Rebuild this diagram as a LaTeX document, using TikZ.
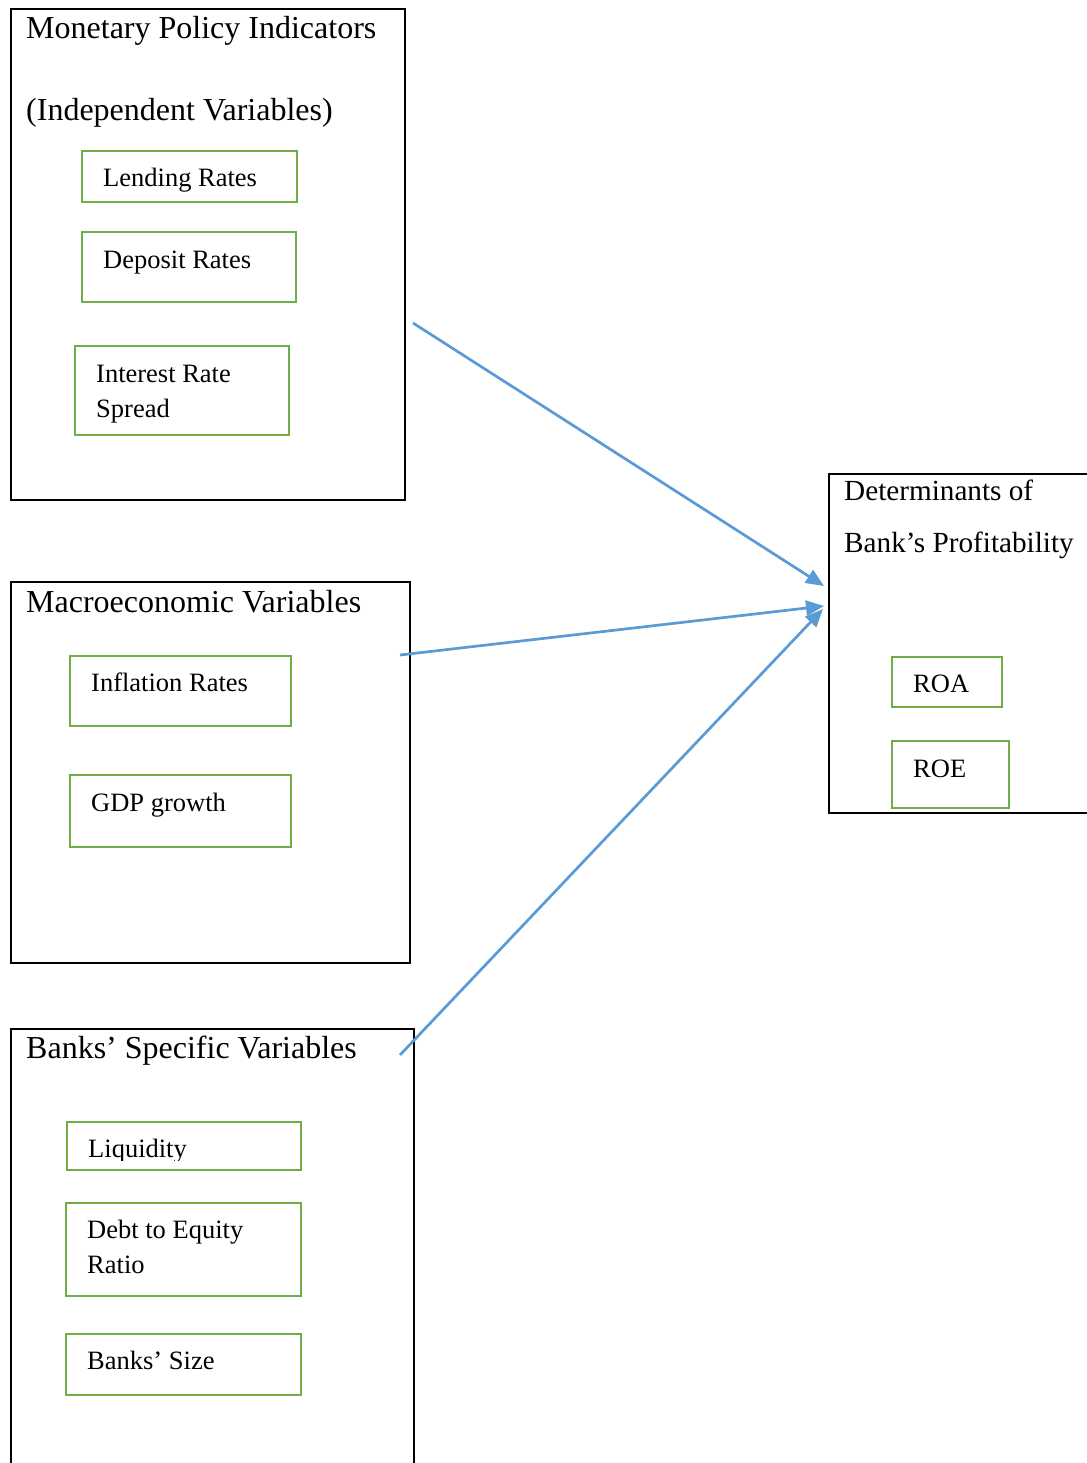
\documentclass[tikz,border=0pt]{standalone}
\usepackage{fontspec}
\setmainfont{Liberation Serif}
\usetikzlibrary{arrows.meta}
\definecolor{boxgreen}{HTML}{70AD47}
\definecolor{arrowblue}{HTML}{5B9BD5}
\begin{document}
\begin{tikzpicture}[x=1pt,y=-1pt,
  outerbox/.style={draw=black,line width=2pt,inner sep=0pt,outer sep=0pt,anchor=north west},
  varbox/.style={draw=boxgreen,line width=2.6pt,inner sep=0pt,outer sep=0pt,anchor=north west},
  title/.style={anchor=base west,inner sep=0pt,font=\fontsize{32}{38}\selectfont},
  dtitle/.style={anchor=base west,inner sep=0pt,font=\fontsize{29.2}{35}\selectfont},
  label/.style={anchor=base west,inner sep=0pt,font=\fontsize{26.5}{32}\selectfont},
  link/.style={draw=arrowblue,line width=2.7pt,-{Triangle[length=18pt,width=15pt]}}]
\useasboundingbox (0,0) rectangle (1086,1463);
\fill[white] (0,0) rectangle (1086,1463);

% Box 1: Monetary policy
\node[outerbox,minimum width=394pt,minimum height=491pt] (mp) at (11,9) {};
\node[title] (mpt1) at (26,39) {Monetary Policy Indicators};
\node[title] (mpt2) at (26,121) {(Independent Variables)};
\node[varbox,minimum width=215pt,minimum height=51pt] (lend) at (82,151) {};
\node[label] (lendt) at (103,187) {Lending Rates};
\node[varbox,minimum width=214pt,minimum height=70pt] (dep) at (82,232) {};
\node[label] (dept) at (103,268) {Deposit Rates};
\node[varbox,minimum width=214pt,minimum height=89pt] (irs) at (75,346) {};
\node[label] (irst1) at (96,382) {Interest Rate};
\node[label] (irst2) at (96,417) {Spread};

% Box 2: Macroeconomic
\node[outerbox,minimum width=399pt,minimum height=381pt] (mac) at (11,582) {};
\node[title] (mact) at (26,612) {Macroeconomic Variables};
\node[varbox,minimum width=221pt,minimum height=70pt] (inf) at (70,656) {};
\node[label] (inft) at (91,691) {Inflation Rates};
\node[varbox,minimum width=221pt,minimum height=72pt] (gdp) at (70,775) {};
\node[label] (gdpt) at (91,811) {GDP growth};

% Box 3: Banks' specific
\node[outerbox,minimum width=403pt,minimum height=460pt] (bsv) at (11,1029) {};
\node[title] (bsvt) at (26,1058) {Banks’ Specific Variables};
\begin{scope}
  \clip (67,1122) rectangle (301,1160);
  \node[label] (liqt) at (88,1157) {Liquidity};
\end{scope}
\node[varbox,minimum width=234pt,minimum height=48pt] (liq) at (67,1122) {};
\node[varbox,minimum width=235pt,minimum height=93pt] (dte) at (66,1203) {};
\node[label] (dtet1) at (87,1238) {Debt to Equity};
\node[label] (dtet2) at (87,1273) {Ratio};
\node[varbox,minimum width=235pt,minimum height=61pt] (size) at (66,1334) {};
\node[label] (sizet) at (87,1369) {Banks’ Size};

% Box 4: Determinants
\node[outerbox,minimum width=300pt,minimum height=339pt] (det) at (829,474) {};
\node[dtitle] (dett1) at (844,500) {Determinants of};
\node[dtitle] (dett2) at (844,552) {Bank’s Profitability};
\node[varbox,minimum width=110pt,minimum height=50pt] (roa) at (892,657) {};
\node[label] (roat) at (913,692) {ROA};
\node[varbox,minimum width=117pt,minimum height=67pt] (roe) at (892,741) {};
\node[label] (roet) at (913,777) {ROE};

% Connectors
\coordinate (s1) at (413,323);
\coordinate (e1) at (824,586);
\coordinate (s2) at (400,655);
\coordinate (e2) at (824,606);
\coordinate (s3) at (400,1055);
\coordinate (e3) at (823,609);
\draw[link] (s1) -- (e1);
\draw[link] (s2) -- (e2);
\draw[link] (s3) -- (e3);
\end{tikzpicture}
\end{document}
